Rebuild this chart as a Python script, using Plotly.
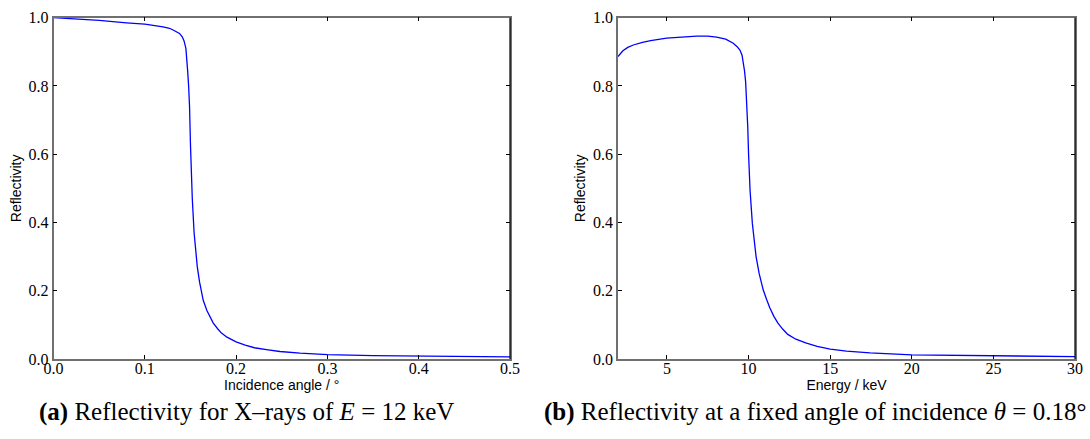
import plotly.graph_objects as go

# ---- data ----
angle_deg = [0, 0.02, 0.05, 0.08, 0.1, 0.12, 0.127, 0.131, 0.135, 0.138, 0.141, 0.143, 0.145,
             0.146, 0.147, 0.148, 0.149, 0.150, 0.151, 0.152, 0.154, 0.1575, 0.160, 0.164,
             0.168, 0.171, 0.175, 0.18, 0.184, 0.19, 0.2, 0.21, 0.22, 0.235, 0.248, 0.27,
             0.3, 0.35, 0.4, 0.45, 0.5]
refl_angle = [1.0, 0.997, 0.992, 0.985, 0.981, 0.973, 0.969, 0.964, 0.959, 0.954, 0.944, 0.932,
              0.910, 0.885, 0.842, 0.80, 0.74, 0.63, 0.54, 0.47, 0.37, 0.27, 0.225, 0.172,
              0.142, 0.124, 0.105, 0.088, 0.076, 0.064, 0.05, 0.041, 0.033, 0.027, 0.022, 0.017,
              0.013, 0.010, 0.008, 0.007, 0.006]

energy_kev = [2, 2.3, 2.6, 2.94, 3.5, 4.0, 4.98, 6.0, 6.82, 7.5, 8.04, 8.6, 9.06, 9.3, 9.47,
              9.6, 9.68, 9.75, 9.82, 9.88, 9.95, 10.0, 10.09, 10.23, 10.46, 10.65, 10.9,
              11.1, 11.3, 11.55, 11.8, 12.1, 12.4, 12.9, 13.5, 14.2, 15, 16, 17.44, 20, 25, 30]
refl_energy = [0.886, 0.903, 0.913, 0.920, 0.928, 0.933, 0.940, 0.944, 0.946, 0.946, 0.943,
               0.937, 0.925, 0.915, 0.905, 0.89, 0.871, 0.845, 0.812, 0.764, 0.68, 0.60,
               0.495, 0.398, 0.30, 0.25, 0.202, 0.175, 0.15, 0.125, 0.105, 0.087, 0.072,
               0.058, 0.047, 0.037, 0.029, 0.023, 0.018, 0.012, 0.009, 0.007]

y_ticks = [0.0, 0.2, 0.4, 0.6, 0.8, 1.0]
x_ticks_a = [0.0, 0.1, 0.2, 0.3, 0.4, 0.5]
x_ticks_b = [5, 10, 15, 20, 25, 30]

caption_a = "<b>(a)</b> Reflectivity for X–rays of <i>E</i> = 12 keV"
caption_b = "<b>(b)</b> Reflectivity at a fixed angle of incidence <i>θ</i> = 0.18°"

W, H = 1090, 439
serif = "Liberation Serif, Times New Roman, serif"
sans = "Liberation Sans, Arial, sans-serif"
spine = "#707070"

fig = go.Figure()
fig.add_trace(go.Scatter(x=angle_deg, y=refl_angle, mode="lines",
                         line=dict(color="#0000ff", width=1.3), xaxis="x", yaxis="y",
                         showlegend=False))
fig.add_trace(go.Scatter(x=energy_kev, y=refl_energy, mode="lines",
                         line=dict(color="#0000ff", width=1.3), xaxis="x2", yaxis="y2",
                         showlegend=False))

ydom = [(H - 359) / H, (H - 17.7) / H]
common_axis = dict(showgrid=False, zeroline=False, showline=True, linecolor=spine,
                   linewidth=1.5, mirror="ticks", ticks="inside", ticklen=4,
                   tickcolor="black", tickwidth=1, automargin=False,
                   tickfont=dict(family=serif, size=16, color="black"))
title_font = dict(family=sans, size=14, color="black")

fig.update_layout(
    width=W, height=H, margin=dict(l=0, r=0, t=0, b=0),
    paper_bgcolor="white", plot_bgcolor="white",
    xaxis=dict(common_axis, domain=[53.5 / W, 510 / W], range=[0, 0.5],
               tickvals=x_ticks_a, ticktext=[f"{v:.1f}" for v in x_ticks_a],
               ticklabelstandoff=-6,
               title=dict(text="Incidence angle / °", font=title_font, standoff=0),
               anchor="y"),
    yaxis=dict(common_axis, domain=ydom, range=[0, 1.0],
               tickvals=y_ticks, ticktext=[f"{v:.1f}" for v in y_ticks],
               title=dict(text="Reflectivity", font=title_font, standoff=4),
               anchor="x"),
    xaxis2=dict(common_axis, domain=[618 / W, 1075 / W], range=[2, 30],
                tickvals=x_ticks_b, ticktext=[str(v) for v in x_ticks_b],
                ticklabelstandoff=-6,
                title=dict(text="Energy / keV", font=title_font, standoff=0),
                anchor="y2"),
    yaxis2=dict(common_axis, domain=ydom, range=[0, 1.0],
                tickvals=y_ticks, ticktext=[f"{v:.1f}" for v in y_ticks],
                title=dict(text="Reflectivity", font=title_font, standoff=4),
                anchor="x2"),
)

# darker right-hand frame edge, as in the reference
for xr, yr in (("x domain", "y domain"), ("x2 domain", "y2 domain")):
    fig.add_shape(type="line", xref=xr, yref=yr, x0=1, x1=1, y0=0, y1=1,
                  line=dict(color="black", width=1.2))

fig.add_annotation(text=caption_a, xref="paper", yref="paper", x=246 / W, y=(H - 412) / H,
                   xanchor="center", yanchor="middle", showarrow=False,
                   font=dict(family=serif, size=25, color="black"))
fig.add_annotation(text=caption_b, xref="paper", yref="paper", x=1088 / W, y=(H - 412) / H,
                   xanchor="right", yanchor="middle", showarrow=False,
                   font=dict(family=serif, size=25, color="black"))

fig.write_html("out.html")
